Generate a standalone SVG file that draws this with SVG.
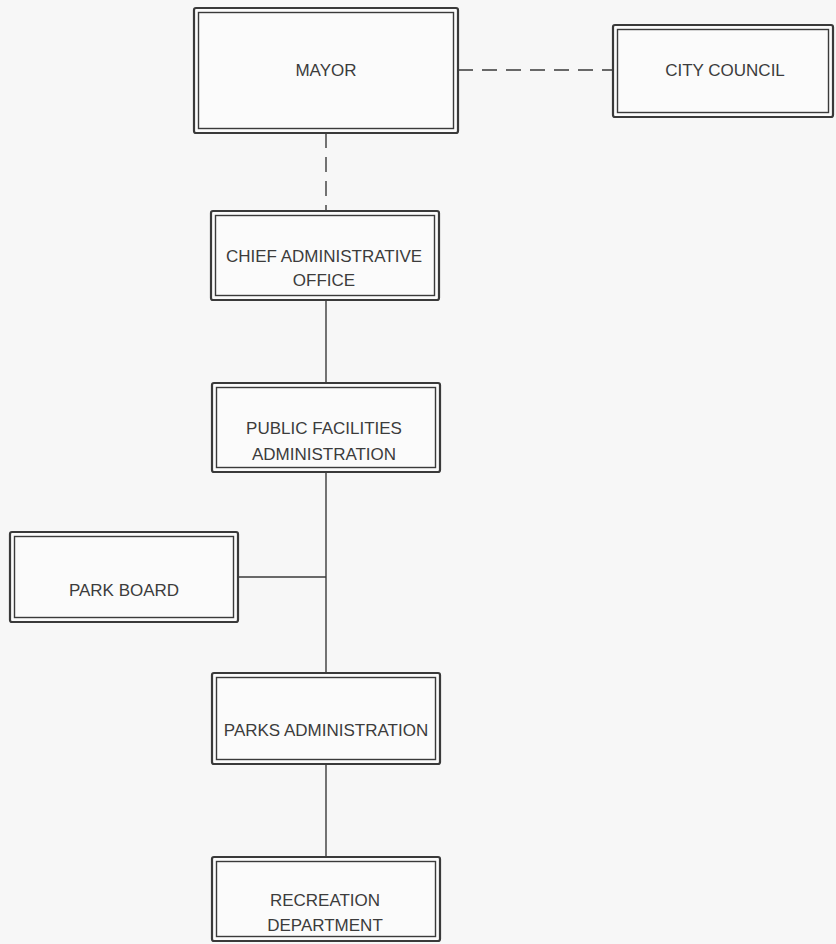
<svg xmlns="http://www.w3.org/2000/svg" width="836" height="944" viewBox="0 0 836 944">
<style>
.o{fill:#fbfbfb;stroke:#3a3a3a;stroke-width:2.2}
.i{fill:none;stroke:#3a3a3a;stroke-width:1.4}
.t{font-family:"Liberation Sans",Arial,sans-serif;font-size:17px;fill:#3c3c3c;text-anchor:middle}
.c{stroke:#3a3a3a;stroke-width:1.4;fill:none}
.d{stroke-dasharray:15 9}
</style>
<rect width="836" height="944" fill="#f7f7f7"/>
<g id="connectors">
<line class="c d" x1="458" y1="70" x2="613" y2="70"/>
<line class="c d" x1="326" y1="133" x2="326" y2="211"/>
<line class="c" x1="326" y1="300" x2="326" y2="383"/>
<line class="c" x1="326" y1="472" x2="326" y2="673"/>
<line class="c" x1="238" y1="577" x2="326" y2="577"/>
<line class="c" x1="326" y1="764" x2="326" y2="857"/>
</g>
<g id="mayor">
<rect class="o" x="194" y="8" width="264" height="125" rx="2"/>
<rect class="i" x="198.5" y="12.5" width="255" height="116"/>
<text class="t" x="326" y="76">MAYOR</text>
</g>
<g id="city-council">
<rect class="o" x="613" y="25" width="220" height="92" rx="2"/>
<rect class="i" x="617.5" y="29.5" width="211" height="83"/>
<text class="t" x="725" y="76">CITY COUNCIL</text>
</g>
<g id="cao">
<rect class="o" x="211" y="211" width="228" height="89" rx="2"/>
<rect class="i" x="215.5" y="215.5" width="219" height="80"/>
<text class="t" x="324" y="262">CHIEF ADMINISTRATIVE</text>
<text class="t" x="324" y="286">OFFICE</text>
</g>
<g id="pfa">
<rect class="o" x="212" y="383" width="228" height="89" rx="2"/>
<rect class="i" x="216.5" y="387.5" width="219" height="80"/>
<text class="t" x="324" y="434">PUBLIC FACILITIES</text>
<text class="t" x="324" y="460">ADMINISTRATION</text>
</g>
<g id="park-board">
<rect class="o" x="10" y="532" width="228" height="90" rx="2"/>
<rect class="i" x="14.5" y="536.5" width="219" height="81"/>
<text class="t" x="124" y="596">PARK BOARD</text>
</g>
<g id="parks-admin">
<rect class="o" x="212" y="673" width="228" height="91" rx="2"/>
<rect class="i" x="216.5" y="677.5" width="219" height="82"/>
<text class="t" x="326" y="736">PARKS ADMINISTRATION</text>
</g>
<g id="recreation">
<rect class="o" x="212" y="857" width="228" height="84" rx="2"/>
<rect class="i" x="216.5" y="861.5" width="219" height="75"/>
<text class="t" x="325" y="906">RECREATION</text>
<text class="t" x="325" y="931">DEPARTMENT</text>
</g>
</svg>
